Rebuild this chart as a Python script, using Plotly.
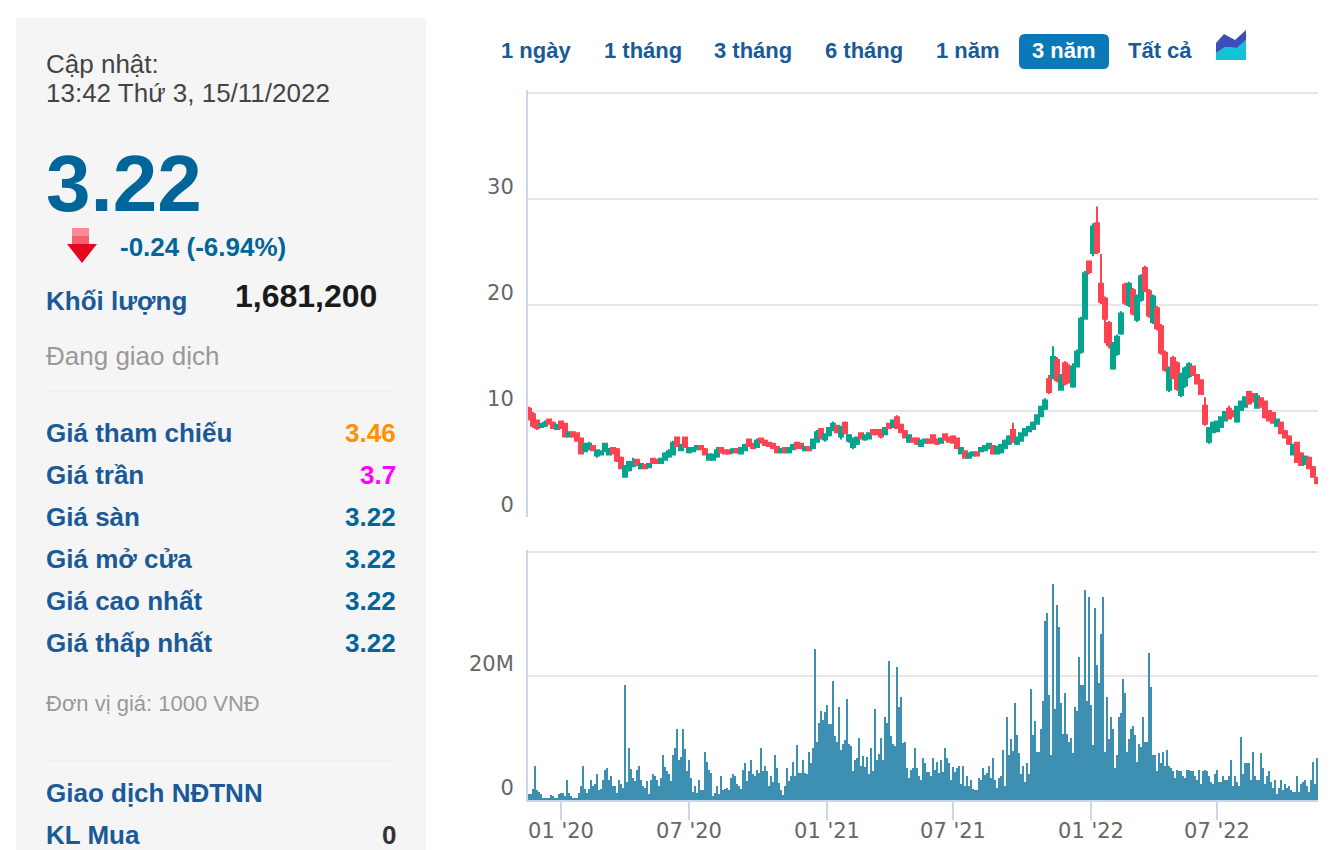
import plotly.graph_objects as go
from plotly.subplots import make_subplots

# gia theo phien (1000 VND)
opens = [
    10.2,9.7,9.1,8.5,8.6,9.2,8.9,8.3,9.0,8.8,
    7.6,8.0,7.9,7.4,6.2,6.4,6.7,5.8,5.9,6.2,
    5.9,6.5,6.4,5.6,3.8,4.4,4.8,5.4,4.6,4.9,
    4.7,5.5,5.4,5.1,5.4,5.7,5.9,7.5,6.3,7.5,
    6.1,6.2,6.4,6.7,6.4,5.4,5.4,5.7,6.5,6.3,
    6.3,6.1,6.4,6.0,6.3,7.3,6.9,6.6,7.4,7.2,
    7.0,6.9,6.6,6.1,6.5,6.1,6.4,7.0,6.9,6.3,
    6.6,6.5,7.1,8.3,7.3,7.7,8.2,8.6,7.6,8.9,
    7.2,6.6,6.9,7.9,7.3,7.4,8.2,8.2,8.2,7.8,
    8.8,8.5,9.4,8.7,8.1,7.1,7.4,7.4,6.7,7.0,
    7.3,7.7,7.3,7.0,7.8,7.5,7.6,7.4,6.0,6.2,
    5.6,5.8,6.1,6.2,6.3,6.5,6.7,6.0,6.1,6.5,
    6.9,8.2,6.9,7.2,7.7,8.1,8.3,8.8,9.5,10.2,
    13.0,13.1,14.8,12.0,14.5,14.0,12.3,14.2,15.6,18.7,
    24.1,24.9,27.7,22.0,20.6,18.3,14.0,15.4,17.3,21.9,
    20.0,21.4,18.6,20.5,23.5,21.3,18.4,19.7,18.0,15.5,
    12.0,15.0,14.5,11.5,12.4,13.3,14.2,13.4,12.9,10.5,
    7.1,8.0,8.1,8.5,9.1,10.2,9.9,9.0,10.1,10.4,
    11.8,11.6,10.3,11.2,10.9,10.0,9.8,8.6,8.9,8.1,
    7.6,5.9,7.0,6.0,5.0,5.6,4.7,3.7,
]
closes = [
    9.2,8.6,8.4,8.8,8.9,8.8,8.4,8.7,8.4,7.6,
    8.0,7.6,7.2,6.0,6.8,6.9,6.3,6.3,6.2,6.9,
    6.4,6.0,5.3,4.6,4.8,5.2,5.2,4.9,5.0,4.6,
    5.0,5.1,5.1,5.5,6.0,6.2,7.0,6.7,6.7,6.6,
    6.5,6.5,6.7,6.4,5.9,5.9,5.9,6.3,6.1,6.0,
    6.0,6.4,6.1,6.5,6.8,6.7,6.5,7.2,7.0,6.8,
    6.7,6.5,6.1,6.4,6.1,6.5,6.8,6.5,6.5,6.6,
    6.3,7.3,8.0,7.5,7.8,8.4,8.8,8.0,8.5,7.9,
    7.7,7.4,7.5,7.4,7.7,7.9,7.8,7.8,7.6,8.4,
    8.4,9.1,8.4,8.0,7.5,7.7,7.1,6.9,7.2,7.3,
    7.0,7.0,6.9,7.4,7.3,7.1,7.0,6.5,6.5,5.6,
    6.0,6.1,5.8,6.5,6.7,6.9,6.0,6.6,6.8,7.2,
    7.6,7.1,7.5,7.9,8.3,8.5,8.9,9.6,10.4,11.0,
    11.8,15.1,12.9,13.2,12.6,12.8,14.2,15.6,18.7,23.0,
    23.1,27.4,25.0,20.3,18.7,16.2,16.2,17.0,19.2,20.2,
    22.0,19.2,20.8,22.7,21.4,19.0,20.8,17.8,15.5,13.9,
    14.0,13.2,12.1,13.4,14.0,14.4,13.4,12.6,11.6,8.8,
    8.4,8.9,9.0,9.4,9.9,9.3,9.5,10.4,10.9,11.3,
    10.7,10.9,11.4,10.4,9.4,9.1,8.9,9.2,7.9,7.5,
    6.9,6.8,5.2,4.9,5.7,4.6,3.8,3.2,
]
highs = [
    10.4,9.9,9.2,8.9,9.1,9.3,9.0,8.8,9.1,8.9,
    8.1,8.1,8.0,7.5,7.0,7.1,6.8,6.4,6.3,7.0,
    6.5,6.6,6.5,5.7,4.9,5.3,5.6,5.5,5.1,5.0,
    5.1,5.6,5.5,5.6,6.1,6.4,7.2,7.6,6.9,7.6,
    6.6,6.6,6.8,6.8,6.5,6.0,6.0,6.6,6.6,6.4,
    6.4,6.5,6.5,6.6,6.9,7.4,7.0,7.4,7.5,7.3,
    7.1,7.0,6.7,6.5,6.6,6.6,6.9,7.1,7.0,6.7,
    6.7,7.4,8.2,8.4,7.9,8.5,9.0,8.7,8.6,9.0,
    7.8,7.5,7.6,8.0,7.8,8.0,8.3,8.3,8.3,8.5,
    8.9,9.2,9.6,8.8,8.2,7.8,7.5,7.5,7.3,7.4,
    7.4,7.8,7.4,7.5,7.9,7.6,7.7,7.5,6.6,6.3,
    6.1,6.2,6.2,6.6,6.8,7.0,6.8,6.7,6.9,7.3,
    7.7,8.9,7.6,8.0,8.4,8.6,9.0,9.7,10.5,11.2,
    13.4,16.1,15.1,13.5,14.7,14.4,14.5,15.8,18.9,23.2,
    24.2,27.7,29.3,24.8,20.8,18.5,16.5,17.2,19.4,22.1,
    22.2,21.6,21.0,22.9,23.7,21.5,21.0,19.9,18.2,15.7,
    14.2,15.2,14.7,13.6,14.2,14.6,14.3,13.5,13.0,11.3,
    8.5,9.0,9.1,9.5,10.0,10.5,10.1,10.5,11.0,11.4,
    11.9,11.7,11.7,11.3,11.0,10.1,9.9,9.3,9.0,8.2,
    7.7,6.9,7.1,6.1,5.8,5.7,4.8,3.8,
]
lows = [
    9.1,8.4,8.2,8.4,8.5,8.7,8.3,8.2,8.3,7.5,
    7.5,7.5,7.1,5.9,6.1,6.3,6.2,5.6,5.8,6.1,
    5.8,5.9,5.2,4.5,3.7,4.3,4.7,4.8,4.5,4.5,
    4.6,5.0,5.0,5.0,5.3,5.6,5.8,6.6,6.2,6.5,
    6.0,6.1,6.3,6.3,5.8,5.3,5.3,5.6,6.0,5.9,
    5.9,6.0,6.0,5.9,6.2,6.6,6.4,6.5,6.9,6.7,
    6.6,6.4,6.0,6.0,6.0,6.0,6.3,6.4,6.4,6.2,
    6.2,6.4,7.0,7.3,7.1,7.6,8.1,7.9,7.3,7.8,
    7.0,6.4,6.8,7.3,7.2,7.3,7.7,7.7,7.4,7.7,
    8.3,8.4,8.3,7.9,7.4,7.0,7.0,6.8,6.6,6.9,
    6.9,6.9,6.8,6.9,7.2,7.0,6.9,6.4,5.9,5.5,
    5.5,5.7,5.7,6.1,6.2,6.4,5.9,5.9,6.0,6.4,
    6.8,7.0,6.8,7.1,7.6,8.0,8.2,8.7,9.4,10.1,
    11.6,13.0,12.7,11.9,12.4,12.6,12.2,14.1,15.4,18.6,
    22.9,24.6,24.8,20.1,16.4,15.9,13.9,15.2,17.2,20.0,
    19.8,19.0,18.4,20.3,21.2,18.8,18.2,17.6,15.3,13.7,
    11.8,13.0,11.9,11.3,12.2,13.1,13.3,12.5,11.5,8.6,
    6.9,7.9,8.0,8.4,9.0,9.2,9.4,8.9,10.0,10.3,
    10.6,10.8,10.2,10.3,9.3,9.0,8.8,8.5,7.8,7.4,
    6.8,5.8,5.1,4.8,4.9,4.5,3.7,3.1,
]

# khoi luong (trieu co phieu)
volumes_m = [
    0.9,0.9,1.7,5.5,1.6,1.3,1.0,0.4,0.2,0.2,0.2,0.8,0.6,0.4,0.2,1.0,1.2,1.2,0.6,
    3.2,1.2,0.6,0.3,0.2,0.2,1.2,2.2,5.5,1.7,1.2,1.7,3.2,2.2,2.6,4.2,1.6,1.8,3.2,
    4.8,5.1,3.2,3.9,2.2,2.2,1.2,3.2,2.6,1.9,18.5,2.9,8.4,5.0,3.5,3.1,4.8,5.5,3.3,
    2.2,1.9,3.0,1.0,3.2,4.2,3.8,3.3,2.3,3.5,7.2,5.3,4.7,4.2,3.0,7.2,8.4,11.4,6.5,
    6.9,11.4,8.2,4.7,6.5,3.5,1.3,2.3,1.2,3.2,1.6,1.6,7.8,6.2,4.8,4.3,0.6,1.2,2.2,
    1.0,3.9,1.6,1.8,1.9,1.6,3.6,4.2,3.9,2.5,2.3,1.8,4.9,5.9,3.0,4.6,6.5,4.2,3.9,
    4.9,4.4,8.4,4.6,5.5,4.6,2.2,3.8,2.9,7.2,5.1,2.7,1.6,0.8,2.3,5.1,3.0,3.8,6.2,
    3.8,8.8,4.4,4.3,6.5,4.4,4.2,7.8,5.9,8.4,24.4,9.3,12.4,14.3,12.9,14.2,15.3,12.2,
    12.3,19.2,10.3,9.3,15.0,8.1,9.0,9.6,16.3,9.1,8.7,4.6,6.5,6.7,10.0,5.5,7.1,5.4,
    6.9,4.2,8.4,4.7,14.6,6.5,7.4,10.0,6.5,13.3,12.4,22.4,10.3,9.1,8.7,21.5,15.0,
    16.6,9.2,9.3,5.1,3.5,4.9,5.2,8.4,5.1,3.9,
    # tu 05/2021
    3.3,6.8,5.9,4.5,4.5,3.9,6.8,4.9,6.2,4.3,6.5,4.5,8.4,6.8,5.9,3.3,5.4,4.5,5.1,
    5.5,2.6,5.5,2.2,3.9,2.3,3.3,1.8,1.6,1.6,3.6,3.3,5.2,4.1,4.3,5.5,3.5,6.8,3.3,
    1.9,3.5,3.9,8.1,2.2,13.3,7.2,9.8,7.9,15.6,10.4,7.6,4.2,5.5,2.9,5.9,4.2,17.9,
    10.4,12.7,7.8,7.8,11.4,15.9,28.9,30.2,16.9,7.2,34.8,14.6,31.5,27.9,15.6,10.7,
    17.2,10.7,9.4,10.0,7.5,15.0,14.3,23.0,18.5,18.5,33.8,15.9,32.8,15.3,8.8,30.9,
    21.8,18.9,26.7,32.8,7.8,16.6,9.8,13.3,11.4,5.2,7.2,13.3,14.0,19.5,17.2,7.8,9.8,
    11.4,12.0,10.4,6.2,9.1,8.5,13.3,9.4,9.4,23.7,18.2,7.2,7.2,4.6,7.5,5.9,7.8,5.5,
    8.1,5.5,5.2,4.6,3.6,4.9,4.6,4.6,3.9,3.6,4.9,4.9,4.6,4.6,3.9,3.3,4.9,2.6,4.6,
    4.9,4.6,3.9,2.9,2.6,4.2,4.9,2.9,2.9,3.9,3.3,3.3,3.9,6.5,2.3,3.9,2.9,2.3,10.1,
    4.2,5.9,5.9,5.9,3.3,7.8,3.9,3.3,3.3,7.5,5.2,2.6,3.9,4.6,2.9,2.0,3.3,1.0,2.0,
    3.3,1.6,2.6,2.0,2.3,1.6,1.3,1.3,3.9,1.3,2.6,2.9,3.3,2.3,1.3,3.3,6.2,2.6,6.8,
]

tick_positions = [16, 80, 149, 212, 281, 344]
tick_labels = ["01 '20", "07 '20", "01 '21", "07 '21", "01 '22", "07 '22"]

row_labels = ["Giá tham chiếu", "Giá trần", "Giá sàn", "Giá mở cửa", "Giá cao nhất", "Giá thấp nhất"]
row_values = ["3.46", "3.7", "3.22", "3.22", "3.22", "3.22"]
row_colors = ["#ff9000", "#ff00ff", "#00669a", "#00669a", "#00669a", "#00669a"]
tab_labels = ["1 ngày", "1 tháng", "3 tháng", "6 tháng", "1 năm", "3 năm", "Tất cả"]

assert len(opens) == len(closes) == len(highs) == len(lows) == 198, (len(opens), len(closes), len(highs), len(lows))
assert len(volumes_m) == 395, len(volumes_m)

# the page body has an 8px margin, so pixels below are page pixels minus that
W, H = 1336, 842
BLUE = "#1a5a96"
GRID = "#e6e6e6"
AXIS = "#ccd6eb"


def fx(x):
    return (x - 8) / W


def fy(y):
    return 1 - (y - 8) / H


def label(x, y, text, size, color, bold=False, anchor="left"):
    fig.add_annotation(
        x=fx(x), y=fy(y), xref="paper", yref="paper", text=f"<b>{text}</b>" if bold else text,
        showarrow=False, xanchor=anchor, yanchor="middle", borderpad=0,
        font=dict(family="Liberation Sans", size=size, color=color),
    )


def shape_path(path, color):
    fig.add_shape(type="path", path=path, xref="paper", yref="paper", fillcolor=color, line_width=0)


def poly(points):
    return "M " + " L ".join(f"{fx(x)},{fy(y)}" for x, y in points) + " Z"


def round_rect(x0, y0, x1, y1, r):
    return (
        f"M {fx(x0 + r)},{fy(y0)} L {fx(x1 - r)},{fy(y0)} Q {fx(x1)},{fy(y0)} {fx(x1)},{fy(y0 + r)} "
        f"L {fx(x1)},{fy(y1 - r)} Q {fx(x1)},{fy(y1)} {fx(x1 - r)},{fy(y1)} "
        f"L {fx(x0 + r)},{fy(y1)} Q {fx(x0)},{fy(y1)} {fx(x0)},{fy(y1 - r)} "
        f"L {fx(x0)},{fy(y0 + r)} Q {fx(x0)},{fy(y0)} {fx(x0 + r)},{fy(y0)} Z"
    )


fig = make_subplots(rows=2, cols=1)

fig.add_trace(go.Candlestick(
    x=list(range(0, 396, 2)), open=opens, high=highs, low=lows, close=closes,
    increasing=dict(line=dict(color="#04a48e", width=2), fillcolor="#04a48e"),
    decreasing=dict(line=dict(color="#fe4352", width=2), fillcolor="#fe4352"),
    whiskerwidth=0, showlegend=False,
), row=1, col=1)
fig.add_trace(go.Bar(
    x=list(range(len(volumes_m))), y=[v * 1e6 for v in volumes_m],
    marker=dict(color="#3e90b2", line_width=0), showlegend=False,
), row=2, col=1)

dom_x = [fx(528), fx(1318)]
fig.update_xaxes(range=[-0.5, 394.5], domain=dom_x, showgrid=False, zeroline=False, automargin=False,
                 rangeslider_visible=False, showline=True, linecolor=AXIS, linewidth=2)
fig.update_xaxes(showticklabels=False, ticks="", showline=False, row=1, col=1)
fig.update_xaxes(tickmode="array", tickvals=tick_positions, ticktext=tick_labels, ticks="outside",
                 ticklen=18, tickcolor=AXIS, tickwidth=1.5, ticklabelstandoff=-7,
                 tickfont=dict(family="DejaVu Sans", size=21, color="#666666"), row=2, col=1)
fig.update_yaxes(showgrid=True, gridcolor=GRID, gridwidth=2, zeroline=False, showline=True, automargin=False,
                 linecolor=AXIS, linewidth=2, ticks="", ticklabelposition="outside top",
                 ticklabelstandoff=8, ticklabelshift=2,
                 tickfont=dict(family="DejaVu Sans", size=21, color="#666666"))
fig.update_yaxes(domain=[fy(517), fy(90)], range=[0, 40.28], tickmode="array",
                 tickvals=[0, 10, 20, 30, 40], ticktext=["0", "10", "20", "30", ""], row=1, col=1)
fig.update_yaxes(domain=[fy(800), fy(550)], range=[0, 40.3e6], tickmode="array",
                 tickvals=[0, 20e6, 40e6], ticktext=["0", "20M", ""], row=2, col=1)

fig.update_layout(
    width=W, height=H, margin=dict(l=0, r=0, t=0, b=0), paper_bgcolor="white", plot_bgcolor="white",
    bargap=0, boxgap=0, boxgroupgap=0, showlegend=False, dragmode=False,
)

# khung thong tin ben trai
fig.add_shape(type="rect", xref="paper", yref="paper", x0=fx(16), x1=fx(426), y0=fy(850), y1=fy(18),
              fillcolor="#f6f5f6", line_width=0, layer="below")
for sep_y in [391, 761]:
    fig.add_shape(type="line", xref="paper", yref="paper", x0=fx(46), x1=fx(396), y0=fy(sep_y), y1=fy(sep_y),
                  line=dict(color="#ececec", width=1), layer="below")

label(45, 64, "Cập nhật:", 26, "#444444")
label(45, 93, "13:42 Thứ 3, 15/11/2022", 26, "#444444")
label(45, 183, "3.22", 80, "#00669a", bold=True)
label(119, 247, "-0.24 (-6.94%)", 26, "#00669a", bold=True)
label(45, 301, "Khối lượng", 26, BLUE, bold=True)
label(378, 296, "1,681,200", 32, "#1a1a1a", bold=True, anchor="right")
label(45, 356, "Đang giao dịch", 26, "#999999")
for i, text in enumerate(row_labels):
    label(45, 433 + 42 * i, text, 26, BLUE, bold=True)
    label(397, 433 + 42 * i, row_values[i], 26, row_colors[i], bold=True, anchor="right")
label(45, 703, "Đơn vị giá: 1000 VNĐ", 22, "#999999")
label(45, 793, "Giao dịch NĐTNN", 26, BLUE, bold=True)
label(45, 835, "KL Mua", 26, BLUE, bold=True)
label(397, 835, "0", 26, "#333333", bold=True, anchor="right")

# mui ten giam
shape_path(poly([(72, 228), (89, 228), (89, 236), (72, 236)]), "#f98a94")
shape_path(poly([(72, 236), (89, 236), (89, 245), (72, 245)]), "#f4606e")
shape_path(poly([(67, 244), (97, 244), (82, 263)]), "#e6071f")

# cac nut chon khoang thoi gian
shape_path(round_rect(1019, 34, 1109, 69, 6), "#0b78b8")
tab_x = [536, 643, 753, 864, 968, 1064, 1160]
for i, text in enumerate(tab_labels):
    label(tab_x[i], 51, text, 22, "white" if text == "3 năm" else BLUE, bold=True, anchor="center")

# bieu tuong bieu do
shape_path(poly([(1216, 60), (1216, 53), (1225, 47), (1237, 48), (1246, 40), (1246, 60)]), "#12c2d6")
shape_path(poly([(1216, 53), (1216, 43), (1224, 34), (1235, 40), (1246, 30), (1246, 40), (1237, 48), (1225, 47)]), "#3a4fb8")

fig.write_html("out.html")
